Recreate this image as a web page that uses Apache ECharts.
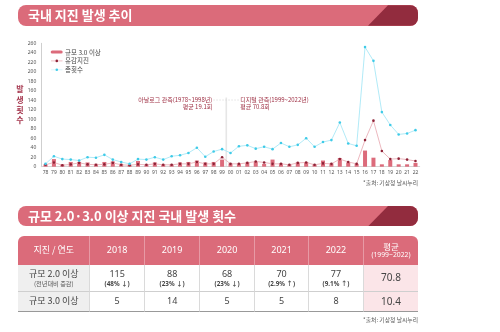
<!DOCTYPE html>
<html><head><meta charset="utf-8">
<script src="https://cdn.jsdelivr.net/npm/echarts@6/dist/echarts.min.js"></script>
<style>
html,body{margin:0;padding:0;background:#fff;}
#wrap{position:relative;width:500px;height:332px;overflow:hidden;font-family:"Noto Sans","Noto Sans CJK KR",sans-serif;}
#chart{position:absolute;left:0;top:0;width:500px;height:332px;}
.tbar{position:absolute;left:18px;width:400px;height:20.4px;background:#db6b7a;border-radius:8px;overflow:hidden;}
.tbar .dk{position:absolute;left:0;top:0;width:100%;height:100%;background:#922c3e;clip-path:polygon(370px 0,100% 0,100% 100%,350px 100%);}
.tbar .tx{position:absolute;left:10px;top:0;height:100%;line-height:20.4px;color:#fff;font-family:"Noto Sans CJK KR";font-weight:bold;font-size:13px;white-space:nowrap;}
#tbl{position:absolute;left:18.3px;top:236px;width:400px;display:grid;
 grid-template-columns:71px 54.7px 55.3px 54.7px 54.3px 54.4px 55.6px;
 grid-template-rows:28.7px 27.6px 19.7px;border-radius:6px 6px 0 0;overflow:hidden;}
#tbl div{box-sizing:border-box;display:flex;flex-direction:column;align-items:center;justify-content:center;color:#444;font-size:9px;line-height:1.15;white-space:nowrap;}
#tbl .h{background:#db6b7a;color:#fff;border-left:1px solid #e79aa5;}
#tbl .h.first{border-left:none;}
#tbl .c{background:#fff;border-left:1px solid #dadada;border-bottom:1px solid #cfcfcf;}
#tbl .g{background:#efefef;border-bottom:1px solid #cfcfcf;}
#tbl .a{background:#fbe5e8;border-left:1px solid #dadada;border-bottom:1px solid #cfcfcf;font-size:10px;}
#tbl .last{border-bottom:1.5px solid #999;}
#tbl .sm{font-size:6.2px;color:#555;font-family:"Noto Sans CJK KR";}
#tbl .pc{font-size:6.3px;font-weight:bold;color:#444;}
.kr{font-family:"Noto Sans CJK KR";}
.src{position:absolute;right:82px;font-size:5.8px;color:#555;font-family:"Noto Sans CJK KR";white-space:nowrap;}
</style></head>
<body><div id="wrap">
<div id="chart"></div>
<div class="tbar" style="top:5.3px"><div class="dk"></div><div class="tx">국내 지진 발생 추이</div></div>
<div class="tbar" style="top:206px"><div class="dk"></div><div class="tx">규모 2.0·3.0 이상 지진 국내 발생 횟수</div></div>
<div id="tbl"></div>
<div class="src" style="top:315px">*출처: 기상청 날씨누리</div>
</div>
<script>
// ----- chart data -----
const years = ['78','79','80','81','82','83','84','85','86','87','88','89','90','91','92','93','94','95','96','97','98','99',
  '00','01','02','03','04','05','06','07','08','09','10','11','12','13','14','15','16','17','18','19','20','21','22'];
const mag3 = [5,16,5,10,10,9,6,10,11,6,4,12,5,9,5,5,9,10,13,9,10,
  15,7,7,9,10,6,15,7,5,9,10,5,13,7,18,9,6,34,19,5,14,5,5,8];
const felt = [4,9,3,5,8,5,4,5,8,4,3,5,4,6,4,4,6,6,10,6,6,
  20,6,6,8,11,9,6,6,4,8,9,4,7,6,16,10,6,56,97,33,16,17,15,12];
const total = [6,22,16,15,13,20,19,25,15,10,6,16,15,20,15,22,24,29,40,21,32,
  37,29,43,45,38,42,37,50,42,46,60,42,52,56,93,49,44,252,223,115,88,68,70,77];
const seriesNames = ['규모 3.0 이상','유감지진','총횟수'];
const yTitle = '발생횟수';
const noteAnalog = ['아날로그 관측(1978~1998년)','평균 19.1회'];
const noteDigital = ['디지털 관측(1999~2022년)','평균 70.8회'];

// ----- table data -----
const tblHeader = ['지진 / 연도','2018','2019','2020','2021','2022'];
const tblAvgHeader = ['평균','(1999~2022)'];
const rowLabels = [['규모 2.0 이상','(전년대비 증감)'],['규모 3.0 이상']];
const m2Values = ['115','88','68','70','77'];
const m2Change = ['(48% ↓)','(23% ↓)','(23% ↓)','(2.9% ↑)','(9.1% ↑)'];
const m3Values = ['5','14','5','5','8'];
const avgValues = ['70.8','10.4'];

// build table
(function(){
  const t = document.getElementById('tbl');
  let h = '';
  tblHeader.forEach((s,i)=>{ h += `<div class="h${i===0?' first':''}${i===0?' kr':''}">${s}</div>`; });
  h += `<div class="h"><span class="kr" style="font-size:8.5px">${tblAvgHeader[0]}</span><span style="font-size:6.8px">${tblAvgHeader[1]}</span></div>`;
  h += `<div class="g kr"><span>${rowLabels[0][0]}</span><span class="sm">${rowLabels[0][1]}</span></div>`;
  m2Values.forEach((v,i)=>{ h += `<div class="c"><span>${v}</span><span class="pc">${m2Change[i]}</span></div>`; });
  h += `<div class="a">${avgValues[0]}</div>`;
  h += `<div class="g kr last">${rowLabels[1][0]}</div>`;
  m3Values.forEach(v=>{ h += `<div class="c last">${v}</div>`; });
  h += `<div class="a last">${avgValues[1]}</div>`;
  t.innerHTML = h;
})();

const chart = echarts.init(document.getElementById('chart'), null, {renderer:'canvas'});
const FONT = 'Noto Sans CJK KR';
const cBar = '#dc6b7b', cFeltLine = '#eab0b8', cFeltDot = '#8e2236', cTotLine = '#a8e8f6', cTotDot = '#3fcbe8';
chart.setOption({
  animation:false,
  textStyle:{fontFamily:FONT},
  grid:{left:41.3, top:43.3, width:378.4, height:123.4},
  xAxis:{type:'category', data:years,
    axisLine:{lineStyle:{color:'#d4d4d4', width:1}}, axisTick:{show:false},
    axisLabel:{fontSize:5, color:'#555', margin:3, interval:0, fontFamily:'Noto Sans'}},
  yAxis:{type:'value', min:0, max:260, interval:20,
    axisLine:{show:true, lineStyle:{color:'#cfcfcf', width:1}}, axisTick:{show:false},
    splitLine:{show:false}, axisLabel:{fontSize:5, color:'#555', margin:5, fontFamily:'Noto Sans'}},
  series:[
    {name:seriesNames[0], type:'bar', data:mag3, barWidth:4, itemStyle:{color:cBar}, z:1},
    {name:seriesNames[1], type:'line', data:felt, symbol:'circle', symbolSize:2.6,
      lineStyle:{color:cFeltLine, width:0.9}, itemStyle:{color:cFeltDot}, z:3},
    {name:seriesNames[2], type:'line', data:total, symbol:'circle', symbolSize:2.6,
      lineStyle:{color:cTotLine, width:0.9}, itemStyle:{color:cTotDot}, z:4}
  ]
});

const x99 = chart.convertToPixel({xAxisIndex:0}, '99');
const x00 = chart.convertToPixel({xAxisIndex:0}, '00');
const y0 = chart.convertToPixel({yAxisIndex:0}, 0);
const xd = (x99 + x00)/2;
const noteColor = '#a03347';
const legendText = {fontSize:6.5, fill:'#444', fontFamily:FONT, verticalAlign:'middle'};
chart.setOption({
  graphic:[
    {type:'line', shape:{x1:xd, y1:97.5, x2:xd, y2:y0}, style:{stroke:'#e6e6e6', lineWidth:1.6}, z:0},
    {type:'line', shape:{x1:xd-13, y1:100, x2:xd+13, y2:100}, style:{stroke:'#d6d6d6', lineWidth:0.7, lineDash:[1.5,1.5]}},
    {type:'text', x:xd-14, y:100, style:{text:noteAnalog[0], fontSize:6, fill:noteColor, align:'right', verticalAlign:'middle', fontFamily:FONT}},
    {type:'text', x:xd-14, y:107, style:{text:noteAnalog[1], fontSize:6, fill:noteColor, align:'right', verticalAlign:'middle', fontFamily:FONT}},
    {type:'text', x:xd+14, y:100, style:{text:noteDigital[0], fontSize:6, fill:noteColor, align:'left', verticalAlign:'middle', fontFamily:FONT}},
    {type:'text', x:xd+14, y:107, style:{text:noteDigital[1], fontSize:6, fill:noteColor, align:'left', verticalAlign:'middle', fontFamily:FONT}},
    {type:'text', x:20, y:104.7, style:{text:yTitle.split('').join('\n'), fontSize:8, lineHeight:10.3, fontWeight:'bold', fill:'#a3324a', align:'center', verticalAlign:'middle', fontFamily:FONT}},
    // legend
    {type:'rect', shape:{x:50.7, y:50.6, width:12, height:3, r:1.5}, style:{fill:cBar}},
    {type:'text', x:65, y:52.2, style:Object.assign({text:seriesNames[0]}, legendText)},
    {type:'line', shape:{x1:51, y1:60.9, x2:62.5, y2:60.9}, style:{stroke:cFeltLine, lineWidth:0.8}},
    {type:'circle', shape:{cx:56.8, cy:60.9, r:1.3}, style:{fill:cFeltDot}},
    {type:'text', x:65, y:61, style:Object.assign({text:seriesNames[1]}, legendText)},
    {type:'line', shape:{x1:51, y1:69.8, x2:62.5, y2:69.8}, style:{stroke:'#d2f4fb', lineWidth:0.8}},
    {type:'circle', shape:{cx:56.8, cy:69.8, r:1.3}, style:{fill:cTotDot}},
    {type:'text', x:65, y:70, style:Object.assign({text:seriesNames[2]}, legendText)},
    {type:'text', x:418, y:182.7, style:{text:'*출처: 기상청 날씨누리', fontSize:5.8, fill:'#555', align:'right', verticalAlign:'middle', fontFamily:FONT}}
  ]
});
</script>
</body></html>
